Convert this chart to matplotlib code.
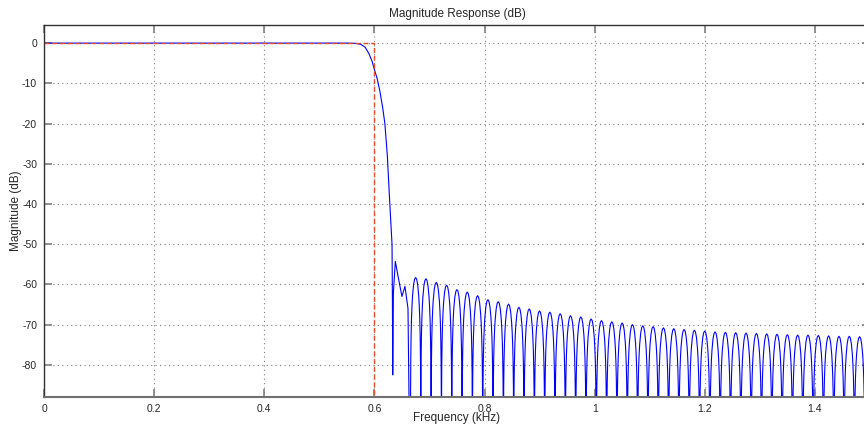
import numpy as np
import matplotlib
matplotlib.use("Agg")
import matplotlib.pyplot as plt

plt.rcParams['font.family'] = ['Liberation Sans', 'DejaVu Sans']
plt.rcParams['axes.unicode_minus'] = False

# passband and transition band (kHz, dB)
trans_freq = [0.0, 0.55, 0.565, 0.575, 0.583, 0.590, 0.596, 0.600, 0.605, 0.610,
              0.615, 0.619, 0.6235, 0.628, 0.632, 0.6327, 0.6333, 0.6345, 0.638,
              0.643, 0.650, 0.6555, 0.661, 0.6655]
trans_db = [0.0, 0.0, -0.05, -0.3, -1.0, -2.6, -4.6, -6.6, -8.8, -12.0,
            -16.0, -20.0, -28.0, -40.0, -50.0, -63.7, -82.5, -62.0, -54.3,
            -58.0, -63.0, -60.5, -66.0, -120.0]

# stopband side lobes: first null, null spacing and the peak of every lobe
first_null = 0.6655
null_spacing = 0.01875
lobe_peaks_db = [-58.3, -58.6, -59.5, -60.2, -61.3, -61.9, -62.8, -63.8, -64.3, -64.9,
                 -65.7, -66.1, -66.6, -66.9, -67.3, -67.8, -68.1, -68.6, -69.0, -69.3,
                 -69.6, -70.0, -70.3, -70.5, -70.8, -71.0, -71.2, -71.4, -71.6, -71.8,
                 -71.9, -72.0, -72.1, -72.2, -72.3, -72.4, -72.5, -72.6, -72.6, -72.7,
                 -72.8, -72.9, -72.9, -73.0, -73.0]

# shape of one lobe relative to its peak (fraction of lobe width, dB)
lobe_t = [0.0, 0.01, 0.03, 0.06, 0.1, 0.15, 0.2, 0.3, 0.4, 0.5,
          0.6, 0.7, 0.8, 0.85, 0.9, 0.94, 0.97, 0.99, 1.0]
lobe_rel_db = [-120, -30, -20.5, -14.5, -10.2, -6.9, -4.6, -1.8, -0.4, 0.0,
               -0.4, -1.8, -4.6, -6.9, -10.2, -14.5, -20.5, -30, -120]

# ideal lowpass mask
mask_freq = [0.0, 0.6, 0.6]
mask_db = [0.0, 0.0, -200.0]

f = list(trans_freq)
m = list(trans_db)
for k, pk in enumerate(lobe_peaks_db):
    f0 = first_null + k * null_spacing
    f += [f0 + t * null_spacing for t in lobe_t[1:]]
    m += [pk + r for r in lobe_rel_db[1:]]

fig = plt.figure(figsize=(8.64, 4.28), dpi=100)
ax = fig.add_axes([44 / 864, 31 / 428, 826 / 864, 372 / 428])

ax.plot(f, m, color='blue', lw=0.8)
ax.plot(mask_freq, mask_db, color='#e8502d', lw=1.0, dashes=(3.6, 2.0))

ax.set_xlim(0, 1.5)
ax.set_ylim(-88, 4.5)
ax.set_xticks([0, 0.2, 0.4, 0.6, 0.8, 1.0, 1.2, 1.4])
ax.set_xticklabels(['0', '0.2', '0.4', '0.6', '0.8', '1', '1.2', '1.4'])
ax.set_yticks(np.arange(-80, 1, 10))
ax.tick_params(direction='in', length=6, width=1.2, color='#808080',
               labelsize=7.5, labelcolor='#262626', top=True, right=True, pad=5)
ax.grid(True, linestyle=(0, (1, 3)), color='#7f7f7f', lw=0.8)
for s in ax.spines.values():
    s.set_color('#333333')
    s.set_linewidth(1.0)
ax.spines['bottom'].set_color('#707070')
ax.spines['bottom'].set_linewidth(1.5)

ax.set_title('Magnitude Response (dB)', fontsize=8.5, color='#262626', pad=6)
ax.set_xlabel('Frequency (kHz)', fontsize=8.5, color='#262626')
ax.set_ylabel('Magnitude (dB)', fontsize=8.5, color='#262626')
ax.xaxis.set_label_coords(0.5, -0.041)
ax.yaxis.set_label_coords(-0.027, 0.5)

fig.savefig('out.png', dpi=100)
